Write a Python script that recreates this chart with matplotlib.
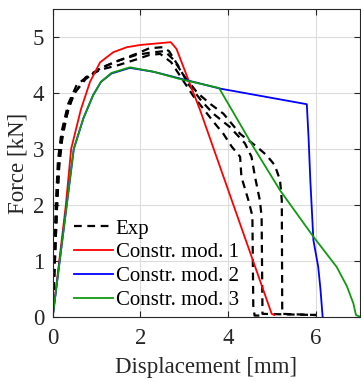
import matplotlib
matplotlib.use("Agg")
import matplotlib.pyplot as plt

plt.rcParams['font.family'] = ['Liberation Serif', 'DejaVu Serif']

# Experimental curves (displacement [mm], force [kN])
exp1_x = [0, 0.03, 0.07, 0.12, 0.2, 0.35, 0.55, 0.8, 1.1, 1.5, 1.9, 2.2, 2.45, 2.7, 2.95, 3.2, 3.43, 3.7, 3.89, 4.08, 4.27, 4.3, 4.46, 4.55, 4.57, 4.6, 4.8]
exp1_y = [0, 1.0, 2.0, 2.8, 3.3, 3.8, 4.15, 4.3, 4.42, 4.5, 4.6, 4.68, 4.7, 4.55, 4.25, 3.95, 3.72, 3.45, 3.27, 3.04, 2.86, 2.5, 2.08, 1.8, 0.2, 0.02, 0.02]
exp2_x = [0, 0.05, 0.1, 0.15, 0.22, 0.35, 0.5, 0.75, 1.1, 1.5, 1.9, 2.2, 2.5, 2.65, 2.85, 3.1, 3.4, 3.66, 4.04, 4.38, 4.53, 4.61, 4.72, 4.76, 4.78, 6.0]
exp2_y = [0, 1.0, 2.0, 2.7, 3.2, 3.7, 4.0, 4.25, 4.45, 4.58, 4.7, 4.8, 4.82, 4.75, 4.5, 4.15, 3.85, 3.63, 3.39, 3.10, 2.86, 2.5, 2.08, 1.79, 0.05, 0.03]
exp3_x = [0, 0.05, 0.1, 0.15, 0.25, 0.45, 0.75, 1.1, 1.5, 1.9, 2.2, 2.55, 2.75, 3.0, 3.3, 3.6, 3.89, 4.27, 4.65, 4.87, 5.06, 5.18, 5.22, 5.23, 6.0]
exp3_y = [0, 1.0, 2.0, 2.8, 3.4, 3.95, 4.28, 4.45, 4.58, 4.68, 4.72, 4.75, 4.6, 4.3, 4.0, 3.8, 3.63, 3.27, 3.04, 2.89, 2.71, 2.44, 2.08, 0.05, 0.03]

# Constitutive model 1
mod1_x = [0, 0.3, 0.42, 0.64, 0.85, 1.08, 1.38, 1.69, 2.0, 2.69, 2.82, 3.36, 4.99, 5.05]
mod1_y = [0, 2.0, 3.0, 3.7, 4.2, 4.55, 4.73, 4.82, 4.86, 4.91, 4.79, 3.69, 0.05, 0.03]

# Constitutive model 2
mod2_x = [0, 0.48, 0.7, 0.92, 1.1, 1.34, 1.76, 2.3, 2.9, 3.81, 5.79, 5.83, 5.87, 5.94, 6.05, 6.1, 6.15]
mod2_y = [0, 3.0, 3.55, 3.96, 4.2, 4.35, 4.45, 4.38, 4.26, 4.08, 3.80, 3.2, 2.44, 1.37, 0.89, 0.5, 0.0]

# Constitutive model 3
mod3_x = [0, 0.48, 0.7, 0.92, 1.1, 1.34, 1.76, 2.3, 2.9, 3.79, 4.57, 5.18, 5.94, 6.47, 6.7, 6.85, 6.91, 7.0]
mod3_y = [0, 3.0, 3.55, 3.96, 4.2, 4.36, 4.46, 4.38, 4.25, 4.09, 3.04, 2.26, 1.43, 0.89, 0.55, 0.24, 0.03, 0.0]

fig = plt.figure(figsize=(3.61, 3.82), dpi=100)
ax = fig.add_axes([0.146, 0.171, 0.851, 0.805])

lw = 1.3
dash = (0, (3.5, 2.5))
ax.plot(exp1_x, exp1_y, color='black', lw=1.6, linestyle=dash, label='Exp')
ax.plot(exp2_x, exp2_y, color='black', lw=1.6, linestyle=dash)
ax.plot(exp3_x, exp3_y, color='black', lw=1.6, linestyle=dash)
ax.plot(mod1_x, mod1_y, color='#ff0000', lw=lw, label='Constr. mod. 1')
ax.plot(mod2_x, mod2_y, color='#0000ff', lw=lw, label='Constr. mod. 2')
ax.plot(mod3_x, mod3_y, color='#109a10', lw=lw, label='Constr. mod. 3')

ax.set_xlim(0, 7)
ax.set_ylim(0, 5.5)
ax.set_xticks([0, 2, 4, 6])
ax.set_yticks([0, 1, 2, 3, 4, 5])
ax.grid(True, color='#dcdcdc', lw=0.8)
ax.set_axisbelow(True)
ax.tick_params(direction='in', labelsize=16.5, colors='#262626', length=4, top=True, right=True)
ax.tick_params(axis='x', pad=8)
ax.tick_params(axis='y', pad=6)
for s in ax.spines.values():
    s.set_color('#262626')
    s.set_linewidth(0.8)
ax.set_xlabel('Displacement [mm]', fontsize=16.5, color='#262626', labelpad=6)
ax.set_ylabel('Force [kN]', fontsize=16.5, color='#262626', labelpad=3)

leg = ax.legend(loc='lower left', frameon=False, fontsize=15, handlelength=1.87,
                handletextpad=0.15, labelspacing=0.2, borderaxespad=0.0,
                bbox_to_anchor=(0.041, -0.005))

fig.savefig('out.png', dpi=100)
